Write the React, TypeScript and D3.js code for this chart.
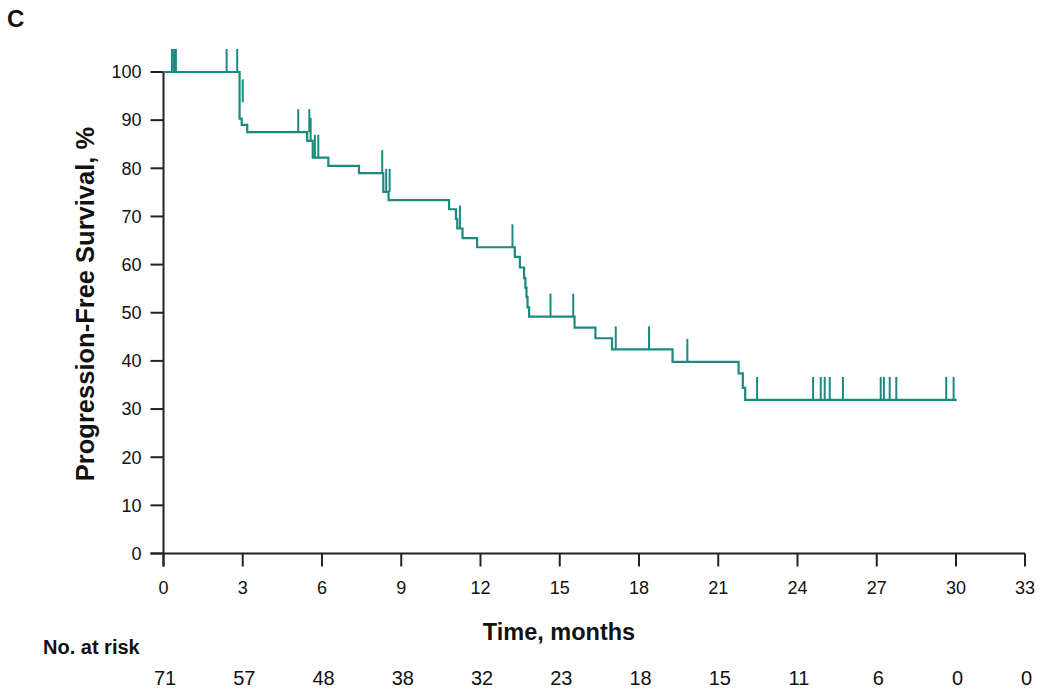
import React from "react";
import * as d3 from "d3";

// ---- data ----
const eventTimes = [2.88, 2.96, 3.17, 5.44, 5.65, 6.24, 7.4, 8.32, 8.52, 10.81, 11.07, 11.12, 11.32, 11.87, 13.3, 13.49, 13.65, 13.7, 13.74, 13.78, 13.84, 15.56, 16.35, 16.98, 19.27, 21.77, 21.93, 22.02];
const survivalAfter = [90.3, 89.0, 87.5, 85.7, 82.2, 80.5, 79.0, 75.1, 73.4, 71.5, 69.5, 67.5, 65.5, 63.6, 61.6, 59.4, 57.2, 55.2, 53.3, 51.1, 49.2, 46.9, 44.7, 42.4, 39.8, 37.4, 34.4, 31.9];
const lastFollowUp = 30.03;

const censorTimes = [0.32, 0.4, 0.47, 2.39, 2.79, 3.0, 5.1, 5.52, 5.57, 5.73, 5.86, 8.28, 8.43, 8.56, 11.22, 13.21, 14.65, 15.51, 17.12, 18.38, 19.83, 22.47, 24.59, 24.88, 25.03, 25.22, 25.72, 27.15, 27.27, 27.49, 27.74, 29.63, 29.91];
const censorLevels = [100, 100, 100, 100, 100, 93.7, 87.5, 87.5, 85.7, 82.2, 82.2, 79.0, 75.1, 75.1, 67.5, 63.6, 49.2, 49.2, 42.4, 42.4, 39.8, 31.9, 31.9, 31.9, 31.9, 31.9, 31.9, 31.9, 31.9, 31.9, 31.9, 31.9, 31.9];

const xTickValues = [0, 3, 6, 9, 12, 15, 18, 21, 24, 27, 30, 33];
const yTickValues = [0, 10, 20, 30, 40, 50, 60, 70, 80, 90, 100];
const atRiskTimes = [0, 3, 6, 9, 12, 15, 18, 21, 24, 27, 30, 33];
const atRiskCounts = [71, 57, 48, 38, 32, 23, 18, 15, 11, 6, 0, 0];

const panelLabel = "C";
const yTitle = "Progression-Free Survival, %";
const xTitle = "Time, months";
const atRiskTitle = "No. at risk";

// ---- layout / style ----
const W = 1050;
const H = 696;
const FONT = "'Liberation Sans', Arial, Helvetica, sans-serif";
const TEAL = "#1b8a7f";
const AXIS = "#222";
const TICK = 13;
const CENSOR_H = 23;

export default function App() {
  const x = d3.scaleLinear().domain([0, 30, 33]).range([163.5, 956, 1025]);
  const y = d3.scaleLinear().domain([0, 100]).range([553.5, 72]);

  const pts: [number, number][] = [[0, 100]];
  eventTimes.forEach((t, i) => pts.push([t, survivalAfter[i]]));
  pts.push([lastFollowUp, survivalAfter[survivalAfter.length - 1]]);

  const line = d3
    .line<[number, number]>()
    .x((d) => x(d[0]))
    .y((d) => y(d[1]))
    .curve(d3.curveStepAfter);

  const x0 = x(0);
  const y0 = y(0);

  return (
    <svg
      width={W}
      height={H}
      viewBox={`0 0 ${W} ${H}`}
      style={{ position: "absolute", left: 0, top: 0, background: "#fff" }}
      fontFamily={FONT}
    >
      <rect x={0} y={0} width={W} height={H} fill="#fff" />
      <text x={7} y={27} fontSize={24} fontWeight="bold" fill="#111">
        {panelLabel}
      </text>

      {/* y axis */}
      <line x1={x0} x2={x0} y1={y(100)} y2={y0 + TICK} stroke={AXIS} strokeWidth={2} />
      {yTickValues.map((v) => (
        <g key={"y" + v}>
          <line x1={x0 - TICK} x2={x0} y1={y(v)} y2={y(v)} stroke={AXIS} strokeWidth={2} />
          <text x={x0 - TICK - 9} y={y(v)} dy="0.35em" textAnchor="end" fontSize={18} fill="#111">
            {v}
          </text>
        </g>
      ))}

      {/* x axis */}
      <line x1={x0 - TICK} x2={x(33)} y1={y0} y2={y0} stroke={AXIS} strokeWidth={2} />
      {xTickValues.map((v) => (
        <g key={"x" + v}>
          <line x1={x(v)} x2={x(v)} y1={y0} y2={y0 + TICK} stroke={AXIS} strokeWidth={2} />
          <text x={x(v)} y={593.5} textAnchor="middle" fontSize={18} fill="#111">
            {v}
          </text>
        </g>
      ))}

      <text
        transform={`translate(93.5,304) rotate(-90)`}
        textAnchor="middle"
        fontSize={25.5}
        fontWeight="bold"
        fill="#111"
      >
        {yTitle}
      </text>
      <text x={559} y={640} textAnchor="middle" fontSize={23.5} fontWeight="bold" fill="#111">
        {xTitle}
      </text>

      {/* KM curve */}
      <path d={line(pts) || ""} fill="none" stroke={TEAL} strokeWidth={2.2} />
      {censorTimes.map((t, i) => (
        <line
          key={"c" + i}
          x1={x(t)}
          x2={x(t)}
          y1={y(censorLevels[i])}
          y2={y(censorLevels[i]) - CENSOR_H}
          stroke={TEAL}
          strokeWidth={2}
        />
      ))}

      {/* number at risk */}
      <text x={43} y={653.5} fontSize={20} fontWeight="bold" fill="#111">
        {atRiskTitle}
      </text>
      {atRiskTimes.map((t, i) => (
        <text key={"r" + i} x={x(t) + 1.5} y={685} textAnchor="middle" fontSize={20} fill="#111">
          {atRiskCounts[i]}
        </text>
      ))}
    </svg>
  );
}
